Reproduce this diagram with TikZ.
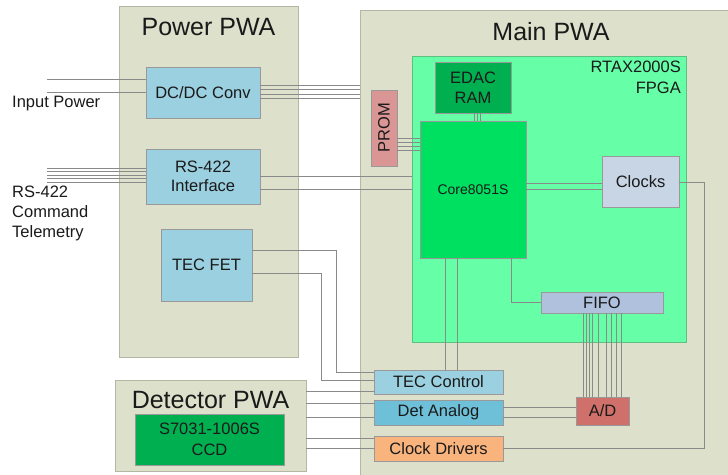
\documentclass[tikz,border=0pt]{standalone}
\usepackage{fontspec}
\setmainfont{Liberation Sans}
\definecolor{board}{HTML}{DDE0CB}
\definecolor{boardln}{HTML}{B4B7A4}
\definecolor{fpgac}{HTML}{66FFA8}
\definecolor{fpgaln}{HTML}{5DBF80}
\definecolor{edacc}{HTML}{00B050}
\definecolor{corec}{HTML}{00E060}
\definecolor{promc}{HTML}{DA9694}
\definecolor{clocksc}{HTML}{C7D5E5}
\definecolor{fifoc}{HTML}{AFC1DC}
\definecolor{adc}{HTML}{D0706A}
\definecolor{lblue}{HTML}{9BD0E0}
\definecolor{dblue}{HTML}{6EC0D8}
\definecolor{orangec}{HTML}{F9B47D}
\definecolor{wire}{HTML}{8A8A8A}
\definecolor{txt}{HTML}{1A1A1A}
\tikzset{
  pwa/.style={draw=boardln, fill=board, line width=1pt, inner sep=0pt, outer sep=0pt},
  blk/.style={draw=black!40, line width=0.9pt, inner sep=0pt, outer sep=0pt, text=txt, font=\fontsize{16.5}{19.5}\selectfont, align=center},
  ttl/.style={text=txt, font=\fontsize{25}{28}\selectfont, inner sep=0pt},
  lbl/.style={text=txt, font=\fontsize{16.5}{20}\selectfont, inner sep=0pt, align=left},
  wr/.style={draw=wire, line width=0.8pt}
}
\begin{document}
\begin{tikzpicture}[x=1pt,y=-1pt]
\useasboundingbox (0,0) rectangle (728,474);
\clip (0,0) rectangle (728,474);
% boards
\node[pwa, minimum width=179pt, minimum height=351pt] (power) at (208.5,181.5) {};
\node[pwa, minimum width=380pt, minimum height=480pt] (main) at (550,250) {};
\node[pwa, minimum width=191pt, minimum height=91pt] (det) at (210.5,425.5) {};
\node[ttl] (powert) at (208.5,27) {Power PWA};
\node[ttl] (maint) at (551,32) {Main PWA};
\node[ttl] (dett) at (210.5,400) {Detector PWA};
% FPGA
\node[draw=fpgaln, fill=fpgac, line width=1pt, inner sep=0pt, outer sep=0pt, minimum width=274pt, minimum height=286pt] (fpga) at (549,199) {};
\node[lbl, align=right, anchor=north east, font=\fontsize{16.5}{21}\selectfont] (fpgat) at (681,61) {RTAX2000S\\FPGA};
% blocks
\node[blk, fill=edacc, minimum width=76pt, minimum height=51pt, font=\fontsize{16.5}{20}\selectfont] (edac) at (473,87.5) {EDAC\\RAM};
\node[blk, fill=corec, minimum width=106pt, minimum height=137pt, font=\fontsize{14}{16}\selectfont] (core) at (473,189.5) {Core8051S};
\node[blk, fill=promc, minimum width=26pt, minimum height=76pt] (prom) at (384,128) {\rotatebox{90}{PROM}};
\node[blk, fill=clocksc, minimum width=77pt, minimum height=51pt] (clocks) at (640.5,181.5) {Clocks};
\node[blk, fill=fifoc, minimum width=122pt, minimum height=21pt] (fifo) at (602,302.5) {FIFO};
\node[blk, fill=adc, minimum width=53pt, minimum height=28pt] (ad) at (602.5,411) {A/D};
\node[blk, fill=lblue, minimum width=129pt, minimum height=24pt] (tecc) at (438.5,382) {TEC Control};
\node[blk, fill=dblue, minimum width=129pt, minimum height=25pt] (deta) at (438.5,412.5) {Det Analog};
\node[blk, fill=orangec, minimum width=129pt, minimum height=25pt] (clkd) at (438.5,448.5) {Clock Drivers};
\node[blk, fill=lblue, minimum width=114pt, minimum height=51pt] (dcdc) at (203,92.5) {DC/DC Conv};
\node[blk, fill=lblue, minimum width=114pt, minimum height=55pt] (rs) at (203,176.5) {RS-422\\Interface};
\node[blk, fill=lblue, minimum width=91pt, minimum height=72pt] (tecfet) at (206.5,265) {TEC FET};
\node[blk, fill=edacc, minimum width=149pt, minimum height=51pt, font=\fontsize{16.5}{21}\selectfont] (ccd) at (209.5,439.5) {S7031-1006S\\CCD};
% outside labels
\node[lbl, anchor=west] (iplbl) at (12,104) {Input Power};
\node[lbl, anchor=west] (rslbl) at (12,213) {RS-422\\Command\\Telemetry};
% input wires
\coordinate (ip1) at (47,79);
\coordinate (ip2) at (47,92);
\draw[wr] (ip1) -- (dcdc.west |- ip1);
\draw[wr] (ip2) -- (dcdc.west |- ip2);
\foreach \y [count=\i] in {168,171.5,175,178.5,182}{
  \coordinate (rsin\i) at (47,\y);
  \draw[wr] (rsin\i) -- (rs.west |- rsin\i);
}
% DC/DC to main
\foreach \y in {85,89,94,98}{
  \draw[wr] (dcdc.east |- 0,\y) -- (main.west |- 0,\y);
}
% RS-422 to core
\foreach \y in {176,189}{
  \draw[wr] (rs.east |- 0,\y) -- (fpga.west |- 0,\y);
}
% PROM to core
\foreach \y in {138,142,146,150}{
  \draw[wr] (prom.east |- 0,\y) -- (core.west |- 0,\y);
}
% EDAC to core
\foreach \x in {474,477,480}{
  \draw[wr] (edac.south -| \x,0) -- (core.north -| \x,0);
}
% core to clocks
\foreach \y in {183,189}{
  \draw[wr] (core.east |- 0,\y) -- (clocks.west |- 0,\y);
}
% clocks to clock drivers
\draw[wr] (clocks.east |- 0,182) -- (704,182) |- (clkd.east);
% core to fifo
\draw[wr] (core.south -| 511,0) |- (fifo.west);
% fifo to A/D
\foreach \x in {583,586,589,592,598,606,611,616,621}{
  \draw[wr] (fifo.south -| \x,0) -- (ad.north -| \x,0);
}
% core to TEC control
\foreach \x in {445,457}{
  \draw[wr] (core.south -| \x,0) -- (tecc.north -| \x,0);
}
% det analog to A/D
\foreach \y in {407,417}{
  \draw[wr] (deta.east |- 0,\y) -- (ad.west |- 0,\y);
}
% TEC FET to TEC control
\draw[wr] (tecfet.east |- 0,250) -- (336,250) |- (tecc.west |- 0,372);
\draw[wr] (tecfet.east |- 0,273) -- (321,273) |- (tecc.west |- 0,380);
% detector to main blocks
\draw[wr] (det.east |- 0,391) -- (tecc.west |- 0,391);
\draw[wr] (det.east |- 0,403) -- (deta.west |- 0,403);
\draw[wr] (det.east |- 0,417) -- (deta.west |- 0,417);
\draw[wr] (det.east |- 0,438) -- (clkd.west |- 0,438);
\draw[wr] (det.east |- 0,448) -- (clkd.west |- 0,448);
\end{tikzpicture}
\end{document}
